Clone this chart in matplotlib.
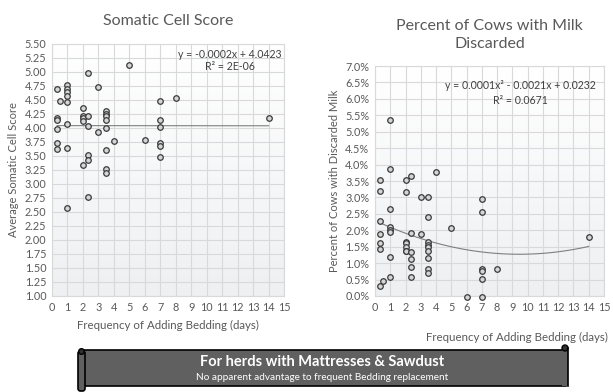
import numpy as np
import matplotlib.pyplot as plt
from matplotlib.colors import LinearSegmentedColormap
from matplotlib.patches import FancyBboxPatch, Rectangle, Circle
from matplotlib.ticker import FuncFormatter

plt.rcParams['font.family'] = ['Lato', 'DejaVu Sans']

# Somatic cell score vs bedding frequency
scs_days = [0.33, 0.5, 0.33, 0.33, 0.33, 0.33, 0.33,
            1, 1, 1, 1, 1, 1, 1, 1,
            2, 2, 2, 2, 2,
            2.33, 2.33, 2.33, 2.33, 2.33, 2.33,
            3, 3,
            3.5, 3.5, 3.5, 3.5, 3.5, 3.5, 3.5, 3.5,
            4, 5, 6,
            7, 7, 7, 7, 7, 7,
            8, 14]
scs_score = [4.69, 4.49, 4.17, 4.14, 3.99, 3.74, 3.62,
             4.77, 4.69, 4.64, 4.57, 4.46, 4.08, 3.64, 2.57,
             4.36, 4.21, 4.17, 4.13, 3.34,
             4.99, 4.21, 4.04, 3.52, 3.43, 2.77,
             4.74, 3.92,
             4.30, 4.25, 4.21, 4.15, 4.00, 3.61, 3.26, 3.20,
             3.77, 5.13, 3.79,
             4.49, 4.14, 4.02, 3.74, 3.68, 3.49,
             4.54, 4.18]
# linear trendline coefficients (slope, intercept)
scs_fit = [-0.0002, 4.0423]

# Percent of cows with milk discarded vs bedding frequency
milk_days = [0.33, 0.33, 0.33, 0.33, 0.33, 0.33, 0.33, 0.5,
             1, 1, 1, 1, 1, 1, 1, 1,
             2, 2, 2, 2, 2, 2, 2,
             2.33, 2.33, 2.33, 2.33, 2.33, 2.33,
             3, 3,
             3.5, 3.5, 3.5, 3.5, 3.5, 3.5, 3.5, 3.5, 3.5,
             4, 5, 6,
             7, 7, 7, 7, 7, 7,
             8, 14]
milk_pct = [3.52, 3.20, 2.29, 1.90, 1.62, 1.42, 0.29, 0.47,
            5.37, 3.87, 2.64, 2.11, 2.00, 1.94, 1.20, 0.57,
            3.52, 3.16, 1.63, 1.60, 1.48, 1.37, 1.37,
            3.64, 1.92, 1.34, 1.13, 0.87, 0.57,
            3.00, 1.88,
            3.00, 2.39, 1.63, 1.55, 1.50, 1.38, 1.15, 0.83, 0.69,
            3.76, 2.06, -0.04,
            2.95, 2.55, 0.83, 0.77, 0.53, -0.04,
            0.83, 1.81]

scs_ticks = np.arange(1.0, 5.51, 0.25)
milk_ticks = np.arange(0.0, 7.01, 0.5)

TXT = '#595959'
EQ = '#404040'
GRID = '#d9d9d9'

fig = plt.figure(figsize=(6.13, 3.92), dpi=100)
bg_cmap = LinearSegmentedColormap.from_list('bg', ['#eef0f2', '#ffffff'])


def style_axes(ax, yticks, fmt):
    # light gradient fill behind the grid
    grad = np.linspace(0.0, 1.0, 64).reshape(-1, 1)
    ax.imshow(grad, extent=[0, 15, yticks[0], yticks[-1]], aspect='auto',
              cmap=bg_cmap, zorder=0, origin='lower')
    ax.set_xlim(0, 15)
    ax.set_ylim(yticks[0], yticks[-1])
    ax.set_xticks(range(16))
    ax.set_yticks(yticks)
    ax.yaxis.set_major_formatter(FuncFormatter(fmt))
    ax.grid(True, color=GRID, linewidth=0.8, zorder=1)
    ax.set_axisbelow(True)
    for s in ax.spines.values():
        s.set_color(GRID)
        s.set_linewidth(0.8)
    ax.tick_params(length=0, labelsize=7.8, colors=TXT, pad=4)


def scatter(ax, x, y):
    ax.plot(x, y, 'o', ms=4.0, mfc='#d4d5d7', mec='#3a3a3a', mew=0.9,
            zorder=4, clip_on=False)


xs_l = np.linspace(min(scs_days), max(scs_days), 100)
xs_r = np.linspace(min(milk_days), max(milk_days), 100)

# left chart
ax1 = fig.add_axes([0.0848, 0.2449, 0.3785, 0.6429])
style_axes(ax1, scs_ticks, lambda v, p: f'{v:.2f}')
scatter(ax1, scs_days, scs_score)
ax1.plot(xs_l, np.polyval(scs_fit, xs_l), color='#7f7f7f', lw=0.8, zorder=3)
ax1.set_title('Somatic Cell Score', fontsize=11.5, color=TXT, pad=14)
ax1.set_ylabel('Average Somatic Cell Score', fontsize=8, color=TXT, labelpad=4)
ax1.set_xlabel('Frequency of Adding Bedding (days)', fontsize=8.3, color=TXT,
               labelpad=5)
ax1.text(11.5, 5.32, 'y = -0.0002x + 4.0423', fontsize=7.6, color=EQ,
         ha='center', va='center', zorder=5)
ax1.text(11.5, 5.09, 'R² = 2E-06', fontsize=7.6, color=EQ,
         ha='center', va='center', zorder=5)

# right chart
ax2 = fig.add_axes([0.6117, 0.2449, 0.3736, 0.5867])
style_axes(ax2, milk_ticks, lambda v, p: f'{v:.1f}%')
scatter(ax2, milk_days, milk_pct)
k2 = np.polyfit(milk_days, milk_pct, 2)
ax2.plot(xs_r, np.polyval(k2, xs_r), color='#7f7f7f', lw=0.8, zorder=3)
ax2.set_title('Percent of Cows with Milk\nDiscarded', fontsize=11.5, color=TXT,
              pad=13, linespacing=1.35)
ax2.set_ylabel('Percent of Cows with Discarded Milk', fontsize=8, color=TXT,
               labelpad=4)
ax2.text(15.25, -1.25, 'Frequency of Adding Bedding (days)', fontsize=8.3,
         color=TXT, ha='right', va='center')
ax2.text(9.5, 6.40, 'y = 0.0001x² - 0.0021x + 0.0232', fontsize=7.6,
         color=EQ, ha='center', va='center', zorder=5)
ax2.text(9.5, 5.94, 'R² = 0.0671', fontsize=7.6, color=EQ,
         ha='center', va='center', zorder=5)

# scroll banner along the bottom, drawn in pixel coordinates
W, H = 613, 392
bx = fig.add_axes([0, 0, 1, 1], zorder=10)
bx.set_xlim(0, W)
bx.set_ylim(H, 0)
bx.axis('off')
bx.patch.set_alpha(0)
fill = '#606060'
bx.add_patch(Rectangle((82, 350), 484, 36, fc=fill, ec='black', lw=1.2))
bx.add_patch(Rectangle((562, 347), 6, 39, fc=fill, ec='none'))
bx.plot([568, 568], [348, 386], color='black', lw=1.2)
bx.add_patch(Circle((565, 348), 3, fc='#303030', ec='black', lw=1.0))
bx.add_patch(FancyBboxPatch((78, 351), 7, 40,
                            boxstyle='round,pad=0,rounding_size=2.5',
                            fc=fill, ec='black', lw=1.2))
bx.add_patch(Circle((81.5, 351.5), 2.8, fc='#303030', ec='black', lw=1.0))
bx.text(322, 362, 'For herds with Mattresses & Sawdust', color='white',
        fontsize=10.5, fontweight='bold', ha='center', va='center')
bx.text(322, 378, 'No apparent advantage to frequent Bedding replacement',
        color='white', fontsize=7.2, ha='center', va='center')

fig.savefig('out.png', dpi=100)
